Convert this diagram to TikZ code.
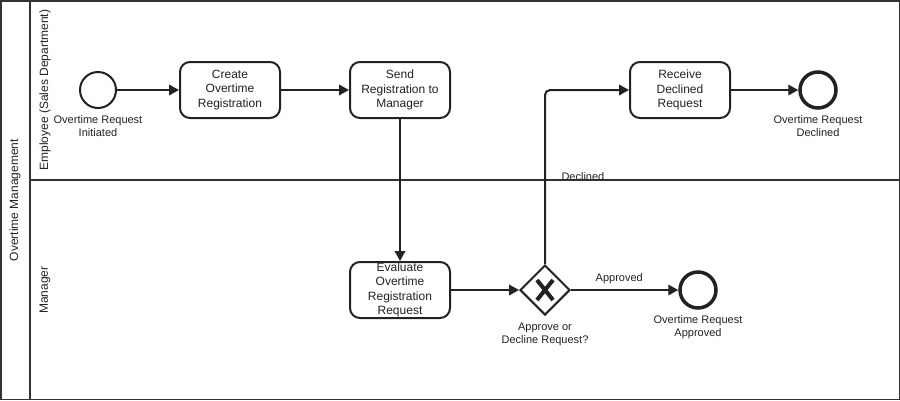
\documentclass[tikz,border=0pt]{standalone}
\usepackage{fontspec}
\setmainfont{Liberation Sans}
\usetikzlibrary{arrows.meta,shapes.geometric,calc}
\definecolor{ink}{HTML}{222222}
\definecolor{frame}{HTML}{333333}
\begin{document}
\begin{tikzpicture}[x=1pt,y=-1pt,
  every node/.style={font=\fontsize{12}{14.5}\selectfont, text=ink},
  task/.style={draw=ink, line width=2pt, rounded corners=10pt, minimum width=100pt, minimum height=56pt, align=center, inner sep=1pt},
  startev/.style={circle, draw=ink, line width=2pt, minimum size=36pt, inner sep=0pt},
  endev/.style={circle, draw=ink, line width=3.5pt, minimum size=36pt, inner sep=0pt},
  gate/.style={diamond, draw=ink, line width=2pt, minimum width=50pt, minimum height=50pt, inner sep=0pt},
  evlabel/.style={font=\fontsize{11}{13}\selectfont, align=center},
  flow/.style={draw=ink, line width=2pt, -{Triangle[length=10pt,width=10.5pt]}},
  lanelabel/.style={rotate=90, font=\fontsize{12}{14}\selectfont}
]
\useasboundingbox (0,0) rectangle (900,400);
\fill[white] (0,0) rectangle (900,400);

% pool and lanes
\draw[frame, line width=1.5pt] (0.75,0.75) rectangle (899.25,399.25);
\draw[frame, line width=1.5pt] (30,0) -- (30,400);
\draw[frame, line width=1.5pt] (30,180) -- (900,180);
\node[lanelabel] (pool) at (15,200) {Overtime Management};
\node[lanelabel] (lane1) at (45,90) {Employee (Sales Department)};
\node[lanelabel] (lane2) at (45,290) {Manager};

% employee lane
\node[startev] (start) at (98,90) {};
\node[evlabel, anchor=north] (startlbl) at (98,112) {Overtime Request\\Initiated};
\node[task] (create) at (230,90) {Create\\Overtime\\Registration};
\node[task] (send) at (400,90) {Send\\Registration to\\Manager};
\node[task] (receive) at (680,90) {Receive\\Declined\\Request};
\node[endev] (enddecl) at (818,90) {};
\node[evlabel, anchor=north] (decllbl) at (818,112) {Overtime Request\\Declined};

% manager lane
\node[task, inner sep=0pt] (evaluate) at (400,290) {Evaluate\\Overtime\\Registration\\Request};
\node[gate] (gw) at (545,290) {};
\draw[ink, line width=4pt] ($(gw.center)+(-8,-10)$) -- ($(gw.center)+(8,10)$);
\draw[ink, line width=4pt] ($(gw.center)+(8,-10)$) -- ($(gw.center)+(-8,10)$);
\node[evlabel, anchor=north] (gwlbl) at (545,319) {Approve or\\Decline Request?};
\node[endev] (endappr) at (698,290) {};
\node[evlabel, anchor=north] (apprlbl) at (698,312) {Overtime Request\\Approved};

% sequence flows
\draw[flow] (start) -- (create);
\draw[flow] (create) -- (send);
\draw[flow] (send) -- (evaluate);
\draw[flow] (evaluate) -- (gw);
\draw[flow] (gw) -- node[above, font=\fontsize{11}{13}\selectfont, pos=0.45, yshift=2pt] (apprtxt) {Approved} (endappr);
\draw[flow, rounded corners=5pt] (gw.north) -- (gw.north |- receive.west) -- (receive.west);
\node[font=\fontsize{11}{13}\selectfont, anchor=base west] (decltxt) at (558,180) {Declined};
\draw[flow] (receive) -- (enddecl);
\end{tikzpicture}
\end{document}
